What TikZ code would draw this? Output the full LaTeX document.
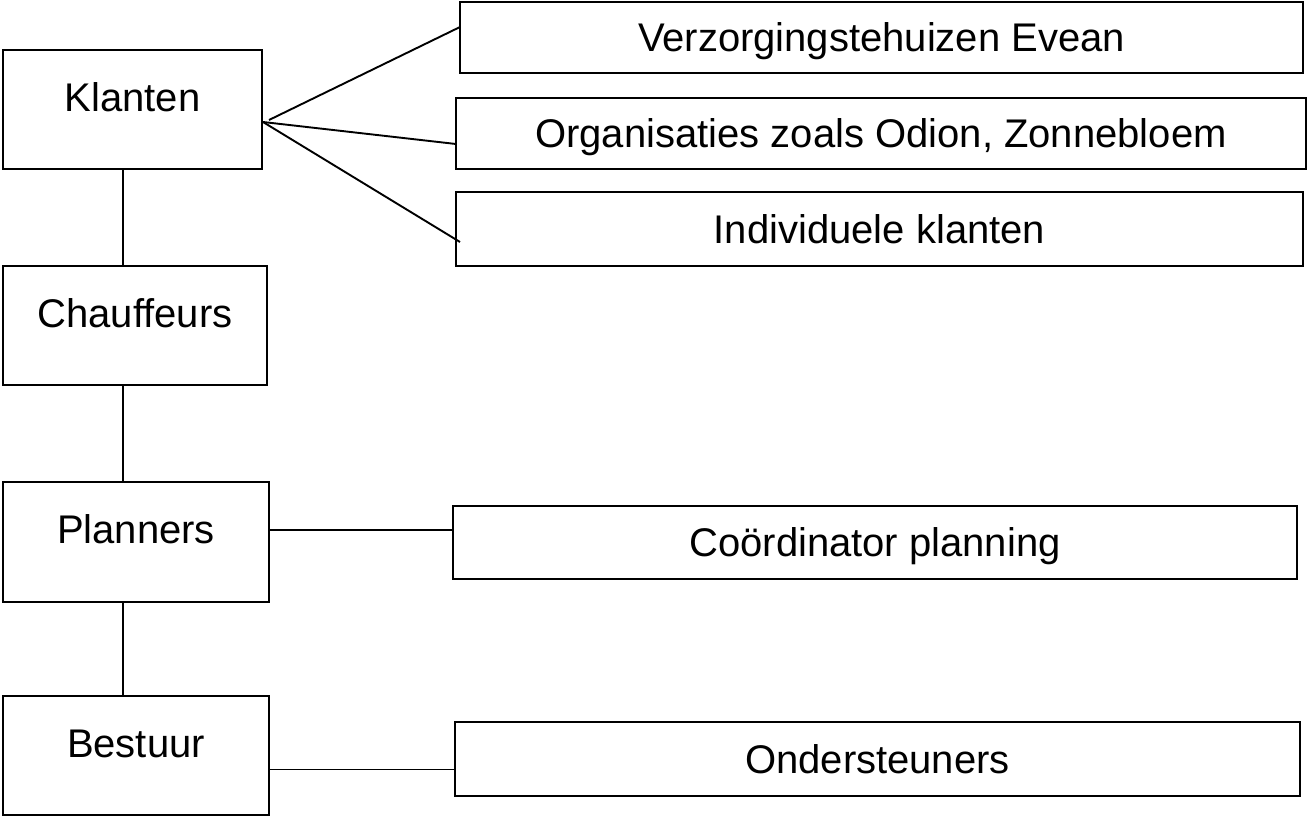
\documentclass[tikz,border=0pt]{standalone}
\usepackage{fontspec}
\setmainfont{Liberation Sans}
\begin{document}
\begin{tikzpicture}[x=1bp,y=-1bp,
  every node/.style={font=\fontsize{40bp}{46bp}\selectfont},
  leftbox/.style={draw=black, line width=2.2bp, anchor=north west, inner sep=0pt, outer sep=0pt, text height=20bp, text depth=17bp},
  rightbox/.style={draw=black, line width=2.2bp, anchor=north west, inner sep=0pt, outer sep=0pt, text height=28bp, text depth=0bp},
  conn/.style={draw=black, line width=1.9bp}]
\useasboundingbox (0,0) rectangle (1308,816);
% left column
\node[leftbox, minimum width=259bp, minimum height=119bp] (klanten) at (3,50) {Klanten};
\node[leftbox, minimum width=264bp, minimum height=119bp] (chauffeurs) at (3,266) {Chauffeurs};
\node[leftbox, minimum width=266bp, minimum height=120bp] (planners) at (3,482) {Planners};
\node[leftbox, minimum width=266bp, minimum height=119bp] (bestuur) at (3,696) {Bestuur};
% right column
\node[rightbox, minimum width=843bp, minimum height=71bp] (verz) at (460,2) {Verzorgingstehuizen Evean};
\node[rightbox, minimum width=850bp, minimum height=71bp] (org) at (456,98) {Organisaties zoals Odion, Zonnebloem};
\node[rightbox, minimum width=847bp, minimum height=74bp] (ind) at (456,192) {Individuele klanten};
\node[rightbox, minimum width=844bp, minimum height=73bp] (coord) at (453,506) {Coördinator planning};
\node[rightbox, minimum width=845bp, minimum height=74bp] (onder) at (455,722) {Ondersteuners};
% vertical spine
\coordinate (vx) at (123,0);
\draw[conn] (klanten.south -| vx) -- (chauffeurs.north -| vx);
\draw[conn] (chauffeurs.south -| vx) -- (planners.north -| vx);
\draw[conn] (planners.south -| vx) -- (bestuur.north -| vx);
% fan from Klanten
\coordinate (k1) at (269,120);
\coordinate (hub) at (263,122);
\draw[conn] (k1) -- ([yshift=10.5bp]verz.west);
\draw[conn] (hub) -- ([yshift=-10.5bp]org.west);
\draw[conn] (hub) -- ([xshift=4bp,yshift=-13bp]ind.west);
% horizontal links
\coordinate (pc) at ([yshift=12bp]planners.east);
\draw[conn] (pc) -- (pc -| coord.west);
\coordinate (bc) at ([yshift=-14bp]bestuur.east);
\draw[conn] (bc) -- (bc -| onder.west);
\end{tikzpicture}
\end{document}
